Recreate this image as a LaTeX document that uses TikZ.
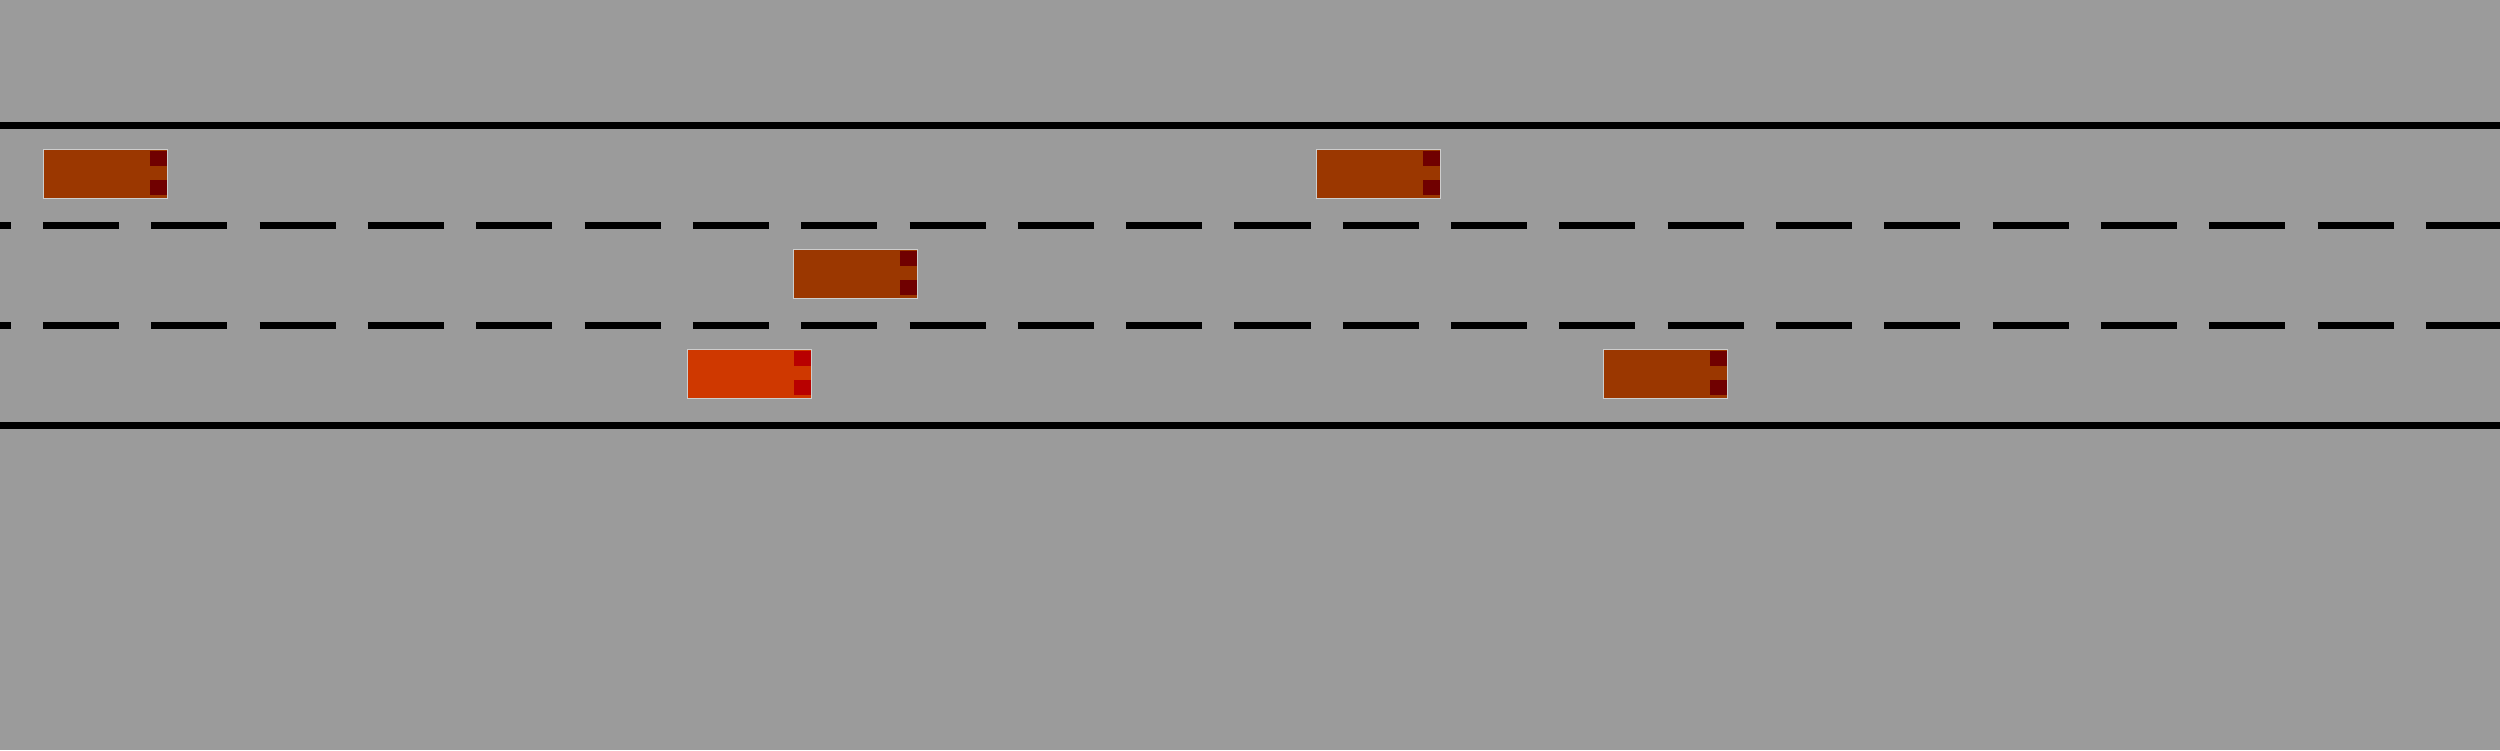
\documentclass[tikz,border=0pt]{standalone}
\usetikzlibrary{positioning}
\definecolor{roadgray}{RGB}{155,155,155}
\definecolor{carbrown}{RGB}{155,55,0}
\definecolor{lightdark}{RGB}{112,0,0}
\definecolor{egored}{RGB}{207,56,0}
\definecolor{egolight}{RGB}{184,0,0}
\definecolor{carrim}{RGB}{205,205,205}
\tikzset{
    road_edge/.style={
        line width=0.07cm,
        draw=black
    },
    lane_mark/.style={
        line width=0.07cm,
        draw=black,
        dash pattern=on 0.76cm off 0.3225cm,
        dash phase=0.6525cm
    },
    car_body/.style={
        rectangle,
        draw=carrim,
        line width=0.3pt,
        minimum width=1.24cm,
        minimum height=0.49cm,
        inner sep=0pt
    },
    car_light/.style={
        rectangle,
        minimum width=0.17cm,
        minimum height=0.15cm,
        inner sep=0pt
    }
}
\newcommand{\roadcar}[5]{
    \node[car_body, fill=#4] (#1) at (#2,#3) {};
    \node[car_light, fill=#5, anchor=north east] (#1Top) at ([shift={(-0.005cm,-0.017cm)}]#1.north east) {};
    \node[car_light, fill=#5, anchor=south east] (#1Bot) at ([shift={(-0.005cm,0.033cm)}]#1.south east) {};
}

\begin{document}
\begin{tikzpicture}[x=0.01cm, y=-0.01cm]

% Road surface
\useasboundingbox (0,0) rectangle (2500,750);
\fill[roadgray] (0,0) rectangle (2500,750);

% Road edges and lane markings
\draw[road_edge] (0,125.5) -- (2500,125.5);
\draw[lane_mark] (0,225.5) -- (2500,225.5);
\draw[lane_mark] (0,325.5) -- (2500,325.5);
\draw[road_edge] (0,425.5) -- (2500,425.5);

% Cars
\roadcar{CarA}{105.5}{173.8}{carbrown}{lightdark}
\roadcar{CarB}{1378.5}{173.8}{carbrown}{lightdark}
\roadcar{CarC}{855.5}{273.8}{carbrown}{lightdark}
\roadcar{EgoCar}{749.5}{373.8}{egored}{egolight}
\roadcar{CarD}{1665.5}{373.8}{carbrown}{lightdark}

\end{tikzpicture}
\end{document}
